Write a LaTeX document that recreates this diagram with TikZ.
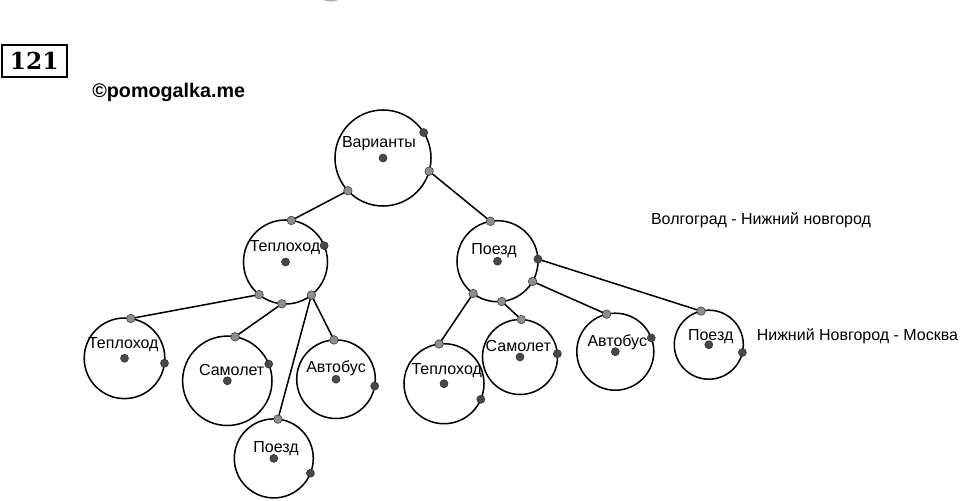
\documentclass[tikz,border=0pt]{standalone}
\usepackage{fontspec}
\setmainfont{Liberation Sans}
\newfontfamily\numfont{DejaVu Serif}

\definecolor{dotgrey}{HTML}{8E8E8E}
\definecolor{dotdark}{HTML}{484848}

\tikzset{every picture/.style={line width=1.15pt}}
\tikzset{
  bub/.style={draw, circle, inner sep=0pt, outer sep=0pt, minimum size=#1*1.5pt},
  gdot/.style={circle, fill=dotgrey, draw=black!75, line width=0.45pt, inner sep=0pt, minimum size=6.4pt},
  ddot/.style={circle, fill=dotdark, draw=black!80, line width=0.45pt, inner sep=0pt, minimum size=6pt},
  lbl/.style={inner sep=0.75pt, font=\fontsize{12}{14}\selectfont}
}

\begin{document}
\begin{tikzpicture}[x=0.75pt,y=0.75pt,yscale=-1,xscale=1]
\useasboundingbox (0,0) rectangle (960,500);

%Shape: Blot at top edge
\fill [black!30] (331,-2) ellipse (9 and 3.5);

% Text Node
\node (num) [draw, line width=1.5pt, inner sep=0pt, minimum width=48.75pt, minimum height=24.2pt,
  font=\numfont\bfseries\fontsize{17.5}{18}\selectfont] at (34.2,61.2) {121};
% Text Node
\node (site) [inner sep=0.75pt, font=\bfseries\fontsize{14.8}{16}\selectfont] at (168.7,92.7) {©pomogalka.me};

%Shape: Circles
\node (var)  [bub=48]   at (383,158) {};
\node (tepA) [bub=42]   at (285.5,262) {};
\node (poeA) [bub=40.5] at (497.5,261.2) {};
\node (tepB) [bub=40.3] at (124.5,358.3) {};
\node (samB) [bub=44.7] at (227.3,380.8) {};
\node (avtB) [bub=39.3] at (336,379.2) {};
\node (poeB) [bub=39.5] at (273.8,458.4) {};
\node (tepC) [bub=40]   at (444,383.7) {};
\node (samC) [bub=37.5] at (520,357) {};
\node (avtC) [bub=38.5] at (615.3,351.7) {};
\node (poeC) [bub=34.5] at (708.8,344.7) {};

%Straight Lines
\draw (var.-137) -- (tepA.82);
\draw (var.-16) -- (poeA.100);
\draw (tepA.-129) -- (tepB.81);
\draw (tepA.-95) -- (samB.80);
\draw (tepA.-52) -- (poeB.84);
\draw (tepA.-52) -- (avtB.93);
\draw (poeA.-127) -- (tepC.97);
\draw (poeA.-84) -- (samC.88);
\draw (poeA.-30) -- (avtC.103);
\draw (poeA.3) -- (poeC.103);

% Text Node
\node (lvar)  [lbl] at (379,144)     {Варианты};
\node (ltepA) [lbl] at (285,247.7)   {Теплоход};
\node (lpoeA) [lbl] at (494,250.7)   {Поезд};
\node (ltepB) [lbl] at (123.3,344.3) {Теплоход};
\node (lsamB) [lbl] at (231.7,370)   {Самолет};
\node (lavtB) [lbl] at (336,368.7)   {Автобус};
\node (lpoeB) [lbl] at (276,449)     {Поезд};
\node (ltepC) [lbl] at (446.7,370.7) {Теплоход};
\node (lsamC) [lbl] at (518.3,345.7) {Самолет};
\node (lavtC) [lbl] at (617.3,342.7) {Автобус};
\node (lpoeC) [lbl] at (710.7,336.7) {Поезд};

% Text Node
\node (leg1) [lbl, anchor=west] at (649.3,220.7) {Волгоград - Нижний новгород};
\node (leg2) [lbl, anchor=west] at (755,336)     {Нижний Новгород - Москва};

%Shape: Points
\foreach \c in {var,tepA,poeA,tepB,samB,avtB,poeB,tepC,samC,avtC,poeC}
  \node [ddot] at (\c.center) {};
\foreach \p in {var.-137,tepA.82,var.-16,poeA.100,tepA.-129,tepB.81,tepA.-95,samB.80,
  tepA.-52,poeB.84,avtB.93,poeA.-127,tepC.97,poeA.-84,samC.88,poeA.-30,avtC.103,poeC.103}
  \node [gdot] at (\p) {};
\foreach \p in {var.32,tepA.23,poeA.3,tepB.-7,samB.22,avtB.-10,poeB.-22,tepC.-23,samC.5,avtC.21,poeC.-13}
  \node [ddot] at (\p) {};

\end{tikzpicture}
\end{document}
